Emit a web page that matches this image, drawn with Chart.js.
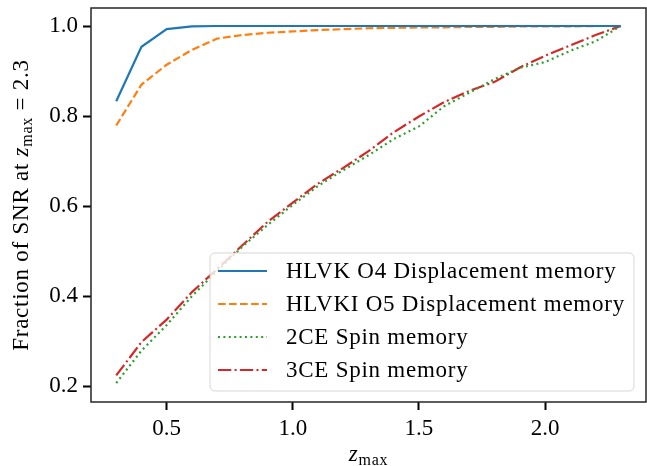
<!DOCTYPE html>
<html>
<head>
<meta charset="utf-8">
<script src="https://cdn.jsdelivr.net/npm/chart.js@4.4.1/dist/chart.umd.min.js"></script>
<style>
  html, body { margin: 0; padding: 0; background: #fff; }
  canvas { display: block; }
</style>
</head>
<body>
<canvas id="snrChart" width="647" height="466"></canvas>
<script>
const zmax = [0.3, 0.4, 0.5, 0.6, 0.7, 0.8, 0.9, 1.0, 1.1, 1.2, 1.3, 1.4, 1.5, 1.6, 1.7, 1.8, 1.9, 2.0, 2.1, 2.2, 2.3];
const hlvkO4 = [0.833, 0.954, 0.993, 0.999, 1.0, 1.0, 1.0, 1.0, 1.0, 1.0, 1.0, 1.0, 1.0, 1.0, 1.0, 1.0, 1.0, 1.0, 1.0, 1.0, 1.0];
const hlvkiO5 = [0.779, 0.870, 0.914, 0.947, 0.972, 0.980, 0.985, 0.988, 0.991, 0.993, 0.995, 0.996, 0.997, 0.997, 0.998, 0.998, 0.999, 0.999, 0.999, 1.0, 1.0];
const ce2Spin = [0.207, 0.279, 0.336, 0.400, 0.456, 0.510, 0.558, 0.603, 0.645, 0.680, 0.713, 0.749, 0.777, 0.822, 0.852, 0.882, 0.907, 0.920, 0.945, 0.966, 1.0];
const ce3Spin = [0.224, 0.298, 0.348, 0.409, 0.460, 0.513, 0.565, 0.608, 0.650, 0.685, 0.722, 0.764, 0.799, 0.831, 0.856, 0.876, 0.908, 0.934, 0.957, 0.980, 1.0];
const seriesLabels = ['HLVK O4 Displacement memory', 'HLVKI O5 Displacement memory', '2CE Spin memory', '3CE Spin memory'];
const xTickValues = [0.5, 1.0, 1.5, 2.0];
const yTickValues = [0.2, 0.4, 0.6, 0.8, 1.0];

const SERIF = '"Liberation Serif", "Times New Roman", serif';
const toPoints = ys => zmax.map((x, i) => ({ x: x, y: ys[i] }));

// matplotlib-like frame around the axes
const framePlugin = {
    id: 'frame',
    afterDatasetsDraw(chart) {
        const { ctx, chartArea: a } = chart;
        ctx.save();
        ctx.strokeStyle = '#262626';
        ctx.lineWidth = 1.5;
        ctx.strokeRect(a.left, a.top, a.right - a.left, a.bottom - a.top);
        ctx.restore();
    }
};

// legend box inside the plot, semi transparent like matplotlib
const boxLegendPlugin = {
    id: 'boxLegend',
    afterDatasetsDraw(chart) {
        const ctx = chart.ctx;
        const x0 = 210, y0 = 253, w = 424, h = 138, r = 5;
        ctx.save();
        ctx.beginPath();
        ctx.roundRect(x0, y0, w, h, r);
        ctx.fillStyle = 'rgba(255,255,255,0.8)';
        ctx.fill();
        ctx.strokeStyle = 'rgba(204,204,204,0.8)';
        ctx.lineWidth = 1;
        ctx.stroke();
        const rowY = [271, 304, 337, 370];
        chart.data.datasets.forEach((ds, i) => {
            ctx.beginPath();
            ctx.setLineDash(ds.borderDash || []);
            ctx.strokeStyle = ds.borderColor;
            ctx.lineWidth = ds.borderWidth;
            ctx.moveTo(218, rowY[i]);
            ctx.lineTo(267, rowY[i]);
            ctx.stroke();
            ctx.setLineDash([]);
            ctx.fillStyle = '#000';
            ctx.font = '23px ' + SERIF;
            ctx.letterSpacing = '0.75px';
            ctx.textBaseline = 'middle';
            ctx.fillText(ds.label, 286, rowY[i] + 1);
        });
        ctx.restore();
    }
};

// axis titles with math subscripts
function drawRuns(ctx, runs, x, y) {
    let cx = x;
    runs.forEach(run => {
        ctx.font = run.font;
        ctx.fillText(run.text, cx, y + (run.dy || 0));
        cx += ctx.measureText(run.text).width;
    });
}
function runsWidth(ctx, runs) {
    return runs.reduce((s, run) => { ctx.font = run.font; return s + ctx.measureText(run.text).width; }, 0);
}
const axisTitlePlugin = {
    id: 'axisTitles',
    afterDraw(chart) {
        const { ctx, chartArea: a } = chart;
        ctx.save();
        ctx.fillStyle = '#000';
        ctx.textBaseline = 'alphabetic';
        ctx.letterSpacing = '0.75px';
        const xRuns = [
            { text: 'z', font: 'italic 23px ' + SERIF },
            { text: 'max', font: '16px ' + SERIF, dy: 4 }
        ];
        const xw = runsWidth(ctx, xRuns);
        drawRuns(ctx, xRuns, (a.left + a.right) / 2 - xw / 2, 461);
        const yRuns = [
            { text: 'Fraction of SNR at ', font: '23px ' + SERIF },
            { text: 'z', font: 'italic 23px ' + SERIF },
            { text: 'max', font: '16px ' + SERIF, dy: 4 },
            { text: ' = 2.3', font: '23px ' + SERIF }
        ];
        const yw = runsWidth(ctx, yRuns);
        ctx.translate(28, (a.top + a.bottom) / 2);
        ctx.rotate(-Math.PI / 2);
        drawRuns(ctx, yRuns, -yw / 2, 0);
        ctx.restore();
    }
};

new Chart(document.getElementById('snrChart').getContext('2d'), {
    type: 'line',
    data: {
        datasets: [
            { label: seriesLabels[0], data: toPoints(hlvkO4), borderColor: '#1f77b4', borderWidth: 2.2 },
            { label: seriesLabels[1], data: toPoints(hlvkiO5), borderColor: '#ff7f0e', borderWidth: 2.2, borderDash: [7.7, 3.3] },
            { label: seriesLabels[2], data: toPoints(ce2Spin), borderColor: '#2ca02c', borderWidth: 2.2, borderDash: [2, 3.4] },
            { label: seriesLabels[3], data: toPoints(ce3Spin), borderColor: '#d62728', borderWidth: 2.2, borderDash: [13.3, 3.3, 2, 3.3] }
        ]
    },
    options: {
        responsive: false,
        animation: false,
        devicePixelRatio: 1,
        layout: { padding: { top: 8, right: 1, left: 0, bottom: 0 } },
        elements: { point: { radius: 0 }, line: { tension: 0, borderCapStyle: 'butt' } },
        plugins: { legend: { display: false }, tooltip: { enabled: false } },
        scales: {
            x: {
                type: 'linear', min: 0.2, max: 2.4,
                afterBuildTicks: s => { s.ticks = xTickValues.map(v => ({ value: v })); },
                afterFit: s => { s.height = 64; s.paddingLeft = 0; s.paddingRight = 0; },
                grid: { drawOnChartArea: false, drawTicks: true, tickLength: 8, tickColor: '#000', tickWidth: 2 },
                border: { display: false },
                ticks: { color: '#000', padding: 5, font: { family: SERIF, size: 23 }, callback: v => v.toFixed(1), maxRotation: 0 }
            },
            y: {
                type: 'linear', min: 0.165, max: 1.04,
                afterBuildTicks: s => { s.ticks = yTickValues.map(v => ({ value: v })); },
                afterFit: s => { s.width = 91; s.paddingTop = 0; s.paddingBottom = 0; },
                grid: { drawOnChartArea: false, drawTicks: true, tickLength: 8, tickColor: '#000', tickWidth: 2 },
                border: { display: false },
                ticks: { color: '#000', padding: 5, font: { family: SERIF, size: 23 }, callback: v => v.toFixed(1) }
            }
        }
    },
    plugins: [framePlugin, boxLegendPlugin, axisTitlePlugin]
});
</script>
</body>
</html>
